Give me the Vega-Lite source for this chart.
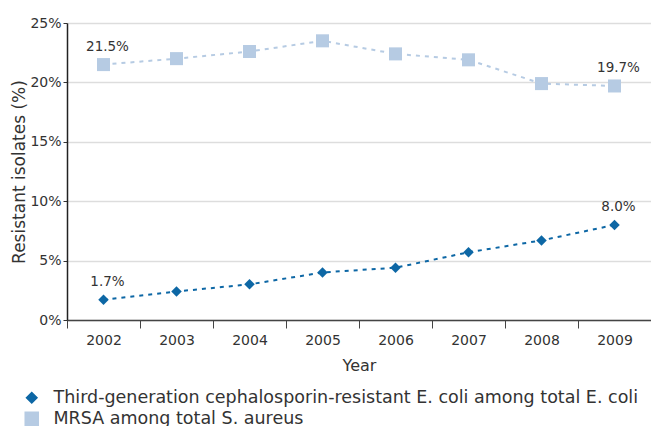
{
  "$schema": "https://vega.github.io/schema/vega-lite/v6.json",
  "width": 584,
  "height": 297,
  "autosize": {"type": "none"},
  "padding": {"left": 67, "top": 23, "right": 0, "bottom": 106},
  "background": "white",
  "config": {
    "view": {"stroke": null},
    "font": "DejaVu Sans",
    "text": {"font": "DejaVu Sans"}
  },
  "data": {
    "values": [
      {"year": "2002", "value": 1.7, "series": "Third-generation cephalosporin-resistant E. coli among total E. coli", "label": "1.7%"},
      {"year": "2003", "value": 2.4, "series": "Third-generation cephalosporin-resistant E. coli among total E. coli", "label": ""},
      {"year": "2004", "value": 3.0, "series": "Third-generation cephalosporin-resistant E. coli among total E. coli", "label": ""},
      {"year": "2005", "value": 4.0, "series": "Third-generation cephalosporin-resistant E. coli among total E. coli", "label": ""},
      {"year": "2006", "value": 4.4, "series": "Third-generation cephalosporin-resistant E. coli among total E. coli", "label": ""},
      {"year": "2007", "value": 5.7, "series": "Third-generation cephalosporin-resistant E. coli among total E. coli", "label": ""},
      {"year": "2008", "value": 6.7, "series": "Third-generation cephalosporin-resistant E. coli among total E. coli", "label": ""},
      {"year": "2009", "value": 8.0, "series": "Third-generation cephalosporin-resistant E. coli among total E. coli", "label": "8.0%"},
      {"year": "2002", "value": 21.5, "series": "MRSA among total S. aureus", "label": "21.5%"},
      {"year": "2003", "value": 22.0, "series": "MRSA among total S. aureus", "label": ""},
      {"year": "2004", "value": 22.6, "series": "MRSA among total S. aureus", "label": ""},
      {"year": "2005", "value": 23.5, "series": "MRSA among total S. aureus", "label": ""},
      {"year": "2006", "value": 22.4, "series": "MRSA among total S. aureus", "label": ""},
      {"year": "2007", "value": 21.9, "series": "MRSA among total S. aureus", "label": ""},
      {"year": "2008", "value": 19.9, "series": "MRSA among total S. aureus", "label": ""},
      {"year": "2009", "value": 19.7, "series": "MRSA among total S. aureus", "label": "19.7%"}
    ]
  },
  "encoding": {
    "x": {
      "field": "year",
      "type": "ordinal",
      "scale": {"type": "band", "paddingInner": 0, "paddingOuter": 0},
      "axis": {
        "title": "Year",
        "titleFontSize": 16,
        "titleFontWeight": "normal",
        "titleColor": "#333333",
        "titlePadding": 10,
        "labelAngle": 0,
        "labelFontSize": 14,
        "labelColor": "#333333",
        "labelPadding": 5,
        "tickBand": "extent",
        "tickSize": 8,
        "tickColor": "#444444",
        "domainColor": "#444444",
        "domainWidth": 1.5,
        "grid": false
      }
    },
    "y": {
      "field": "value",
      "type": "quantitative",
      "scale": {"domain": [0, 25]},
      "axis": {
        "title": "Resistant isolates (%)",
        "titleFontSize": 17,
        "titleFontWeight": "normal",
        "titleColor": "#333333",
        "titlePadding": 1,
        "values": [0, 5, 10, 15, 20, 25],
        "labelExpr": "datum.value + '%'",
        "labelFontSize": 14,
        "labelColor": "#333333",
        "labelPadding": 2,
        "tickSize": 4,
        "tickColor": "#333333",
        "domainColor": "#222222",
        "domainWidth": 1.5,
        "gridColor": "#dddddd",
        "gridWidth": 1.5
      }
    },
    "color": {
      "field": "series",
      "type": "nominal",
      "sort": ["Third-generation cephalosporin-resistant E. coli among total E. coli", "MRSA among total S. aureus"],
      "scale": {
        "domain": ["Third-generation cephalosporin-resistant E. coli among total E. coli", "MRSA among total S. aureus"],
        "range": ["#0d67a5", "#b6cbe3"]
      },
      "legend": {
        "orient": "none",
        "legendX": -44,
        "legendY": 366,
        "title": null,
        "labelFontSize": 17.5,
        "labelColor": "#333333",
        "labelLimit": 700,
        "labelOffset": 13,
        "rowPadding": 2,
        "symbolSize": 70
      }
    }
  },
  "layer": [
    {
      "mark": {"type": "line", "strokeDash": [4, 5], "strokeWidth": 2},
      "encoding": {}
    },
    {
      "mark": {"type": "point", "filled": true, "opacity": 1},
      "encoding": {
        "shape": {
          "field": "series",
          "type": "nominal",
          "scale": {
            "domain": ["Third-generation cephalosporin-resistant E. coli among total E. coli", "MRSA among total S. aureus"],
            "range": ["diamond", "square"]
          },
          "legend": null
        },
        "size": {
          "field": "series",
          "type": "nominal",
          "scale": {
            "domain": ["Third-generation cephalosporin-resistant E. coli among total E. coli", "MRSA among total S. aureus"],
            "range": [110, 170]
          },
          "legend": null
        }
      }
    },
    {
      "mark": {"type": "text", "dy": -18, "dx": 4, "fontSize": 13.5, "color": "#333333"},
      "encoding": {
        "text": {"field": "label"},
        "color": {"value": "#333333"}
      }
    }
  ]
}
